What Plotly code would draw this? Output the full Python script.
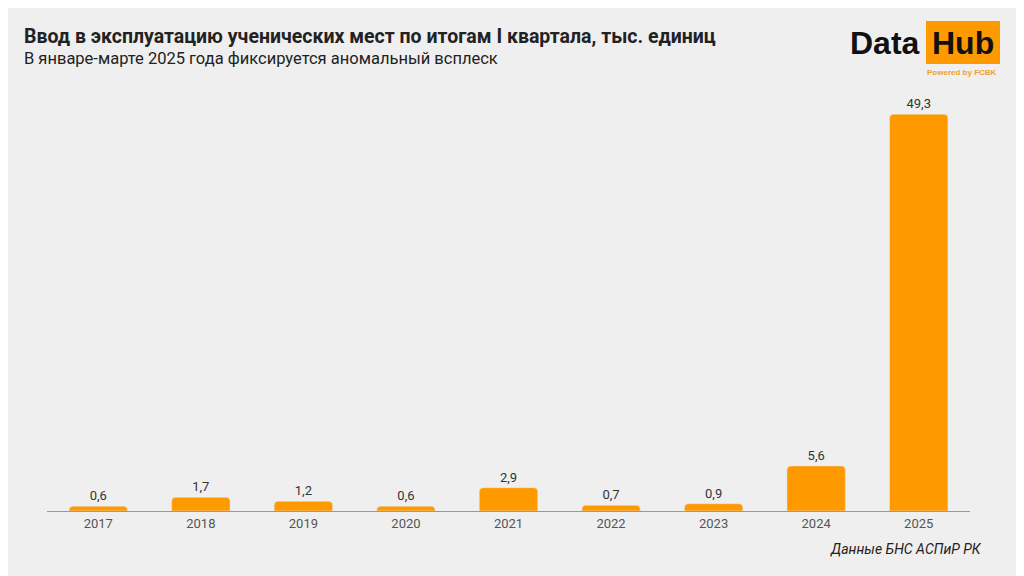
import plotly.graph_objects as go

years = ["2017","2018","2019","2020","2021","2022","2023","2024","2025"]
values = [0.6,1.7,1.2,0.6,2.9,0.7,0.9,5.6,49.3]
labels = [f"{v:.1f}".replace(".", ",") for v in values]

BG = "#efefef"
OR = "#ff9900"
OFF = 8  # browser body margin
W, H = 1024 - OFF, 576 - OFF
pl, pr, pt, pb = 47 - OFF, 54, 90 - OFF, 65
pw, ph = W - pl - pr, H - pt - pb

def px(x): return (x - OFF - pl) / pw
def py(y): return (H - (y - OFF) - pb) / ph

fig = go.Figure(go.Bar(x=years, y=values, text=labels, textposition="outside",
                       marker_color=OR, width=0.57, cliponaxis=False,
                       textfont=dict(family="Roboto", size=13, color="#333")))
ann = [
    ("<b>Ввод в эксплуатацию ученических мест по итогам I квартала, тыс. единиц</b>", 22, 36, "left", 19.5, "#222", "Roboto"),
    ("В январе-марте 2025 года фиксируется аномальный всплеск", 22, 59, "left", 16.5, "#222", "Roboto"),
    ("<i>Данные БНС АСПиР РК</i>", 984, 549, "right", 14, "#222", "Roboto"),
    ("<b>Data</b>", 848, 43, "left", 32, "#111", "Liberation Sans"),
    ("<b>Hub</b>", 963, 43, "center", 32, "#111", "Liberation Sans"),
    ("<b>Powered by FCBK</b>", 962, 72, "center", 8, "#f0a030", "Liberation Sans"),
]
annotations = [dict(text=t, x=px(x), y=py(y), xref="paper", yref="paper", showarrow=False,
                    xanchor=xa, yanchor="middle", font=dict(size=s, color=c, family=f))
               for t, x, y, xa, s, c, f in ann]
fig.update_layout(
    width=W, height=H, paper_bgcolor=BG, plot_bgcolor=BG,
    margin=dict(l=pl, r=pr, t=pt, b=pb), barcornerradius=4, showlegend=False,
    font=dict(family="Roboto"),
    xaxis=dict(showline=True, linecolor="#999", linewidth=1, ticks="",
               tickfont=dict(size=13, color="#555")),
    yaxis=dict(range=[0, 52.3], visible=False, showgrid=False),
    annotations=annotations,
)
fig.add_shape(type="rect", xref="paper", yref="paper", layer="below",
              x0=px(926), x1=px(1000), y0=py(64), y1=py(21),
              fillcolor=OR, line_width=0)
fig.write_html("out.html")
